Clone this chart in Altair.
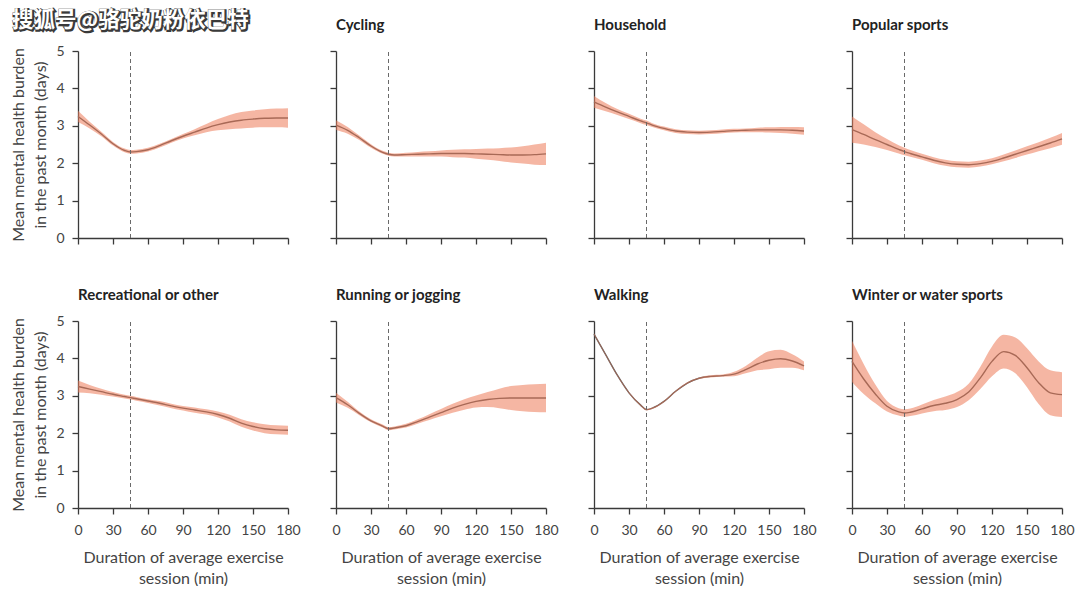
import altair as alt
import pandas as pd

WATERMARK = "搜狐号@骆驼奶粉依巴特"
X = [0, 10, 20, 30, 40, 45, 50, 60, 70, 80, 90, 100, 110, 120, 130, 140, 150, 160, 170, 180]
X_TICKS = [0, 30, 60, 90, 120, 150, 180]
Y_TICKS = [0, 1, 2, 3, 4, 5]
REF_X = 45

TITLES = ["", "Cycling", "Household", "Popular sports",
          "Recreational or other", "Running or jogging", "Walking", "Winter or water sports"]

MEAN_P1 = [3.25, 3.02, 2.78, 2.52, 2.34, 2.30, 2.31, 2.36, 2.47, 2.60, 2.72, 2.83, 2.94, 3.03, 3.10, 3.15, 3.18, 3.20, 3.21, 3.21]
HALF_P1 = [0.15, 0.09, 0.06, 0.05, 0.05, 0.05, 0.05, 0.05, 0.05, 0.05, 0.06, 0.08, 0.11, 0.15, 0.19, 0.22, 0.23, 0.24, 0.25, 0.26]

MEAN_CYC = [3.02, 2.88, 2.68, 2.46, 2.29, 2.24, 2.22, 2.23, 2.24, 2.25, 2.26, 2.26, 2.26, 2.25, 2.24, 2.23, 2.22, 2.22, 2.23, 2.25]
HALF_CYC = [0.13, 0.09, 0.06, 0.05, 0.04, 0.04, 0.04, 0.05, 0.06, 0.07, 0.08, 0.10, 0.11, 0.13, 0.15, 0.17, 0.20, 0.23, 0.27, 0.30]

MEAN_HOU = [3.64, 3.50, 3.37, 3.25, 3.13, 3.08, 3.02, 2.93, 2.86, 2.83, 2.82, 2.83, 2.85, 2.87, 2.88, 2.89, 2.89, 2.89, 2.88, 2.86]
HALF_HOU = [0.16, 0.11, 0.08, 0.07, 0.06, 0.06, 0.05, 0.05, 0.05, 0.05, 0.05, 0.05, 0.05, 0.05, 0.05, 0.06, 0.07, 0.08, 0.09, 0.10]

MEAN_POP = [2.90, 2.77, 2.63, 2.50, 2.37, 2.31, 2.26, 2.17, 2.08, 2.01, 1.97, 1.96, 1.99, 2.05, 2.14, 2.24, 2.34, 2.44, 2.54, 2.65]
HALF_POP = [0.35, 0.27, 0.20, 0.15, 0.11, 0.10, 0.09, 0.08, 0.08, 0.08, 0.08, 0.08, 0.08, 0.08, 0.09, 0.10, 0.11, 0.12, 0.14, 0.16]

MEAN_REC = [3.25, 3.18, 3.11, 3.04, 2.98, 2.95, 2.92, 2.86, 2.80, 2.73, 2.67, 2.62, 2.57, 2.50, 2.40, 2.27, 2.18, 2.12, 2.09, 2.08]
HALF_REC = [0.16, 0.11, 0.08, 0.06, 0.05, 0.05, 0.05, 0.05, 0.06, 0.06, 0.06, 0.07, 0.07, 0.08, 0.09, 0.10, 0.11, 0.12, 0.12, 0.12]

MEAN_RUN = [2.95, 2.76, 2.53, 2.33, 2.19, 2.12, 2.14, 2.20, 2.31, 2.43, 2.55, 2.67, 2.77, 2.85, 2.90, 2.93, 2.94, 2.94, 2.94, 2.94]
HALF_RUN = [0.13, 0.08, 0.05, 0.04, 0.04, 0.04, 0.04, 0.05, 0.06, 0.08, 0.10, 0.12, 0.14, 0.16, 0.20, 0.26, 0.32, 0.35, 0.37, 0.38]

MEAN_WAL = [4.65, 4.10, 3.55, 3.08, 2.75, 2.63, 2.67, 2.85, 3.12, 3.34, 3.47, 3.52, 3.54, 3.58, 3.70, 3.85, 3.95, 3.99, 3.93, 3.80]
HALF_WAL = [0.02, 0.02, 0.02, 0.02, 0.02, 0.02, 0.02, 0.02, 0.02, 0.02, 0.02, 0.03, 0.03, 0.06, 0.10, 0.17, 0.24, 0.24, 0.18, 0.12]

MEAN_WIN = [3.92, 3.45, 3.05, 2.72, 2.57, 2.54, 2.56, 2.65, 2.74, 2.80, 2.90, 3.10, 3.48, 3.92, 4.18, 4.08, 3.75, 3.35, 3.08, 3.03]
HALF_WIN = [0.55, 0.40, 0.25, 0.14, 0.10, 0.10, 0.10, 0.12, 0.15, 0.18, 0.20, 0.22, 0.30, 0.40, 0.45, 0.48, 0.52, 0.57, 0.60, 0.60]

MEANS = [MEAN_P1, MEAN_CYC, MEAN_HOU, MEAN_POP, MEAN_REC, MEAN_RUN, MEAN_WAL, MEAN_WIN]
HALVES = [HALF_P1, HALF_CYC, HALF_HOU, HALF_POP, HALF_REC, HALF_RUN, HALF_WAL, HALF_WIN]

W, H = 210, 187
FONT = "Lato"


def panel(i):
    row, col = divmod(i, 4)
    mean, half = MEANS[i], HALVES[i]
    df = pd.DataFrame({
        "x": X,
        "y": mean,
        "lo": [m - h for m, h in zip(mean, half)],
        "hi": [m + h for m, h in zip(mean, half)],
    })
    bottom = row == 1
    left = col == 0
    xaxis = alt.Axis(values=X_TICKS, labels=bottom, labelPadding=9, labelOverlap=False, labelFlush=False,
                     title=["Duration of average exercise", "session (min)"] if bottom else None,
                     titlePadding=12, titleLineHeight=21)
    yaxis = alt.Axis(values=Y_TICKS, labels=left, labelPadding=8, labelOverlap=False, labelFlush=False,
                     title=["Mean mental health burden", "in the past month (days)"] if left else None,
                     titlePadding=7, titleLineHeight=22)
    xs = alt.Scale(domain=[0, 180], nice=False, zero=False)
    ys = alt.Scale(domain=[0, 5], nice=False)
    base = alt.Chart(df)
    line = base.mark_line(color="#555555", strokeWidth=1.4, interpolate="monotone").encode(
        x=alt.X("x:Q", scale=xs, axis=xaxis),
        y=alt.Y("y:Q", scale=ys, axis=yaxis),
    )
    band = base.mark_area(color="#ec7a58", opacity=0.55, interpolate="monotone").encode(
        x=alt.X("x:Q", scale=xs, axis=xaxis),
        y=alt.Y("lo:Q", scale=ys, axis=yaxis),
        y2="hi:Q",
    )
    rule = alt.Chart(pd.DataFrame({"x": [REF_X], "y0": [Y_TICKS[0]], "y1": [Y_TICKS[-1]]})).mark_rule(
        color="#6a6a6a", strokeDash=[4, 3], strokeWidth=1
    ).encode(
        x=alt.X("x:Q", scale=xs, axis=xaxis),
        y=alt.Y("y0:Q", scale=ys, axis=yaxis),
        y2="y1:Q",
    )
    layers = [line, band, rule]
    if i == 0:
        wdf = pd.DataFrame({"t": [WATERMARK]})
        shadow = alt.Chart(wdf).mark_text(
            font="Noto Sans CJK SC", fontSize=21.5, fontWeight="bold", align="left", baseline="middle",
            fill="#3a3a3a", stroke="#3a3a3a", strokeWidth=2.5, dx=1, dy=1
        ).encode(text="t:N", x=alt.value(-66), y=alt.value(-30))
        front = alt.Chart(wdf).mark_text(
            font="Noto Sans CJK SC", fontSize=21.5, fontWeight="bold", align="left", baseline="middle",
            fill="white"
        ).encode(text="t:N", x=alt.value(-66), y=alt.value(-30))
        layers += [shadow, front]
    ch = alt.layer(*layers).properties(width=W, height=H)
    if TITLES[i]:
        off = 11 if left else 17
        ch = ch.properties(title=alt.TitleParams(TITLES[i], anchor="start", frame="group", offset=off))
    return ch


chart = alt.concat(
    *[panel(i) for i in range(8)], columns=4, spacing={"row": 83, "column": 48}, bounds="flush"
).properties(
    padding={"left": 10, "top": 10, "right": 0, "bottom": 0}, background="white"
).configure_view(stroke=None).configure_axis(
    grid=False, domainColor="#3a3a3a", tickColor="#3a3a3a", domainWidth=1.3, tickWidth=1.3,
    tickSize=6, labelFont=FONT, labelFontSize=14, labelColor="#444", titleFont=FONT,
    titleFontSize=16, titleFontWeight="normal", titleColor="#444",
).configure_title(
    font=FONT, fontSize=15, fontWeight="bold", color="#222"
)

chart.save("out.html", embed_options={"renderer": "svg", "actions": False})
